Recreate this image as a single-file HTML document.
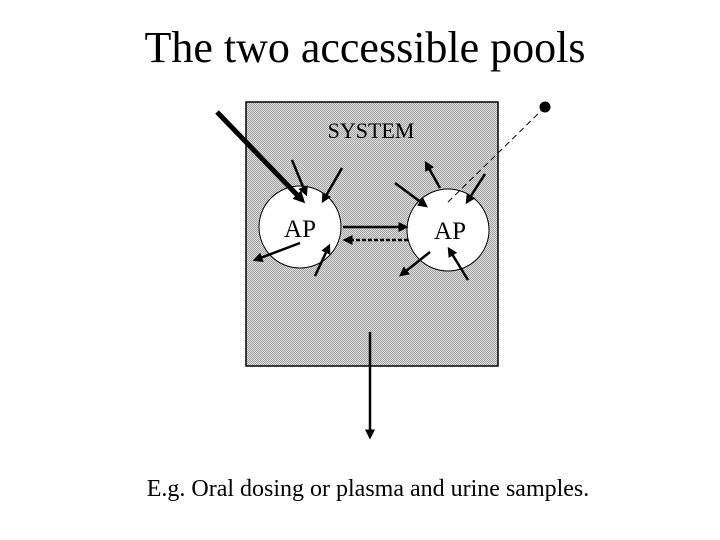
<!DOCTYPE html>
<html><head><style>
html,body{margin:0;padding:0;background:#fff;}
svg{display:block;}
</style></head><body>
<svg width="720" height="540" viewBox="0 0 720 540" xmlns="http://www.w3.org/2000/svg">
<defs>
<pattern id="chk" width="2" height="2" patternUnits="userSpaceOnUse">
<rect width="2" height="2" fill="#e0e0e0"/>
<rect width="1" height="1" fill="#a0a0a0"/>
<rect x="1" y="1" width="1" height="1" fill="#a0a0a0"/>
</pattern>
<marker id="a" markerWidth="4" markerHeight="4" refX="3" refY="2" orient="auto" markerUnits="strokeWidth">
<path d="M0,0 L4,2 L0,4 z" fill="#000"/>
</marker>
<marker id="b" markerWidth="2.4" markerHeight="2.4" refX="1.5" refY="1.2" orient="auto" markerUnits="strokeWidth">
<path d="M0,0 L2.4,1.2 L0,2.4 z" fill="#000"/>
</marker>
</defs>
<text x="365" y="62" font-family="Liberation Serif, serif" font-size="44" text-anchor="middle">The two accessible pools</text>
<rect x="246" y="102" width="252" height="264" fill="url(#chk)" stroke="#000" stroke-width="1.5"/>
<text x="371" y="138" font-family="Liberation Serif, serif" font-size="22" text-anchor="middle">SYSTEM</text>
<circle cx="300" cy="227" r="41" fill="#fff" stroke="#000" stroke-width="1"/>
<circle cx="448" cy="230" r="41" fill="#fff" stroke="#000" stroke-width="1"/>
<text x="300" y="237" font-family="Liberation Serif, serif" font-size="25" text-anchor="middle">AP</text>
<text x="450" y="239" font-family="Liberation Serif, serif" font-size="25" text-anchor="middle">AP</text>
<g stroke="#000" fill="none">
<line x1="217" y1="112" x2="302" y2="200" stroke-width="5" marker-end="url(#b)"/>
<g stroke-width="2.5" marker-end="url(#a)">
<line x1="292" y1="160" x2="306" y2="194"/>
<line x1="342" y1="168" x2="323" y2="201"/>
<line x1="300" y1="243" x2="255" y2="260"/>
<line x1="315" y1="276" x2="329" y2="246"/>
<line x1="343" y1="227" x2="406" y2="227"/>
<line x1="440" y1="188" x2="426" y2="163"/>
<line x1="395" y1="183" x2="426" y2="206"/>
<line x1="485" y1="174" x2="467" y2="202"/>
<line x1="430" y1="252" x2="401" y2="275"/>
<line x1="468" y1="280" x2="449" y2="249"/>
<line x1="370" y1="332" x2="370" y2="437"/>
</g>
<line x1="408" y1="240" x2="345" y2="240" stroke-width="2.5" stroke-dasharray="4,2" marker-end="url(#a)"/>
<line x1="545" y1="107" x2="445" y2="205" stroke-width="1" stroke-dasharray="6,4"/>
</g>
<circle cx="545" cy="107" r="5.5" fill="#000"/>
<text x="368" y="496" font-family="Liberation Serif, serif" font-size="24" text-anchor="middle">E.g. Oral dosing or plasma and urine samples.</text>
</svg>
</body></html>
